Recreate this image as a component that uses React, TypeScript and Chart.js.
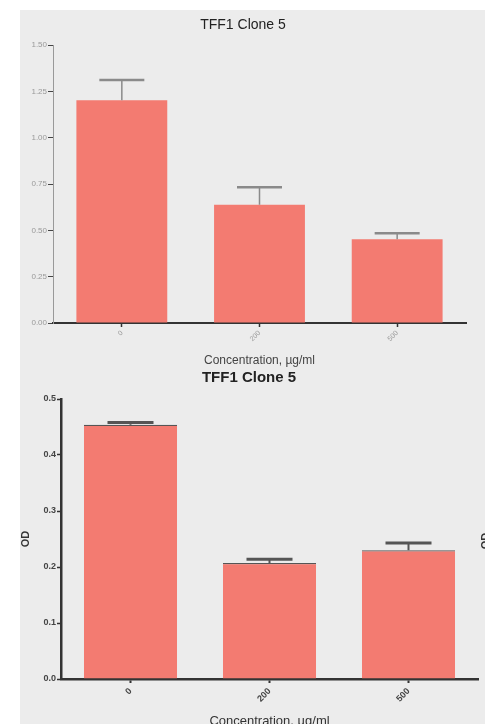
import React, { useEffect, useRef } from "react";
import { Chart, registerables } from "chart.js";

Chart.register(...registerables);

const FONT = "'Liberation Sans', Arial, Helvetica, sans-serif";

const categories = ["0", "200", "500"];
const chartTitle = "TFF1 Clone 5";
const xAxisTitle = "Concentration, µg/ml";
const yAxisTitle = "OD";

const topValues = [1.202, 0.638, 0.452];
const topErrors = [0.109, 0.094, 0.032];
const topYTicks = [0, 0.25, 0.5, 0.75, 1.0, 1.25, 1.5];

const bottomValues = [0.454, 0.207, 0.23];
const bottomErrors = [0.004, 0.007, 0.013];
const bottomYTicks = [0, 0.1, 0.2, 0.3, 0.4, 0.5];

const BAR_COLOR = "#f37b71";
const BG = "#ececec";

const errorBarPlugin = {
  id: "errorBars",
  afterDatasetsDraw(chart: any) {
    const opts = chart.options.plugins.errorBars;
    if (!opts) return;
    const { ctx } = chart;
    const meta = chart.getDatasetMeta(0);
    const ys = chart.scales.y;
    const data = chart.data.datasets[0].data as number[];
    ctx.save();
    ctx.strokeStyle = opts.color;
    meta.data.forEach((bar: any, i: number) => {
      const v = data[i];
      const yTop = ys.getPixelForValue(v + opts.errors[i]);
      const x = bar.x;
      ctx.lineWidth = opts.lineWidth;
      ctx.beginPath();
      ctx.moveTo(x, bar.y);
      ctx.lineTo(x, yTop);
      ctx.stroke();
      ctx.lineWidth = opts.capLineWidth;
      ctx.beginPath();
      ctx.moveTo(x - opts.capWidth / 2, yTop);
      ctx.lineTo(x + opts.capWidth / 2, yTop);
      ctx.stroke();
    });
    ctx.restore();
  },
};

function TopChart() {
  const ref = useRef<HTMLCanvasElement | null>(null);
  useEffect(() => {
    if (!ref.current) return;
    const chart = new Chart(ref.current, {
      type: "bar",
      data: {
        labels: categories,
        datasets: [
          {
            data: topValues,
            backgroundColor: BAR_COLOR,
            borderWidth: 0,
            barPercentage: 0.66,
            categoryPercentage: 1,
          },
        ],
      },
      options: {
        animation: false,
        responsive: false,
        devicePixelRatio: 1,
        layout: { padding: { left: 0, right: 7, top: 0, bottom: 0 } },
        plugins: {
          legend: { display: false },
          tooltip: { enabled: false },
          title: {
            display: true,
            text: chartTitle,
            color: "#222",
            font: { family: FONT, size: 14, weight: "normal", lineHeight: 1.2 },
            padding: { top: 6.6, bottom: 11.6 },
          },
          errorBars: {
            errors: topErrors,
            color: "#8a8a8a",
            lineWidth: 1.5,
            capLineWidth: 2.5,
            capWidth: 45,
          },
        } as any,
        scales: {
          x: {
            grid: {
              display: true,
              offset: false,
              drawOnChartArea: false,
              drawTicks: true,
              tickLength: 4,
              color: "#333",
              tickWidth: 1.5,
            },
            border: { display: true, color: "#333", width: 2 },
            ticks: {
              color: "#999",
              font: { family: FONT, size: 7 },
              minRotation: 45,
              maxRotation: 45,
              padding: 2,
            },
            title: {
              display: true,
              text: xAxisTitle,
              color: "#444",
              font: { family: FONT, size: 12, lineHeight: 1.2 },
              padding: { top: 0, bottom: 4 },
            },
            afterFit: (s: any) => {
              s.height = 49;
            },
          },
          y: {
            min: 0,
            max: 1.5,
            afterBuildTicks: (s: any) => {
              s.ticks = topYTicks.map((v) => ({ value: v }));
            },
            grid: {
              drawOnChartArea: false,
              drawTicks: true,
              tickLength: 5,
              color: "#444",
            },
            border: { display: true, color: "#999", width: 1 },
            ticks: {
              color: "#999",
              font: { family: FONT, size: 8 },
              padding: 1,
              callback: (v: any) => Number(v).toFixed(2),
            },
            afterFit: (s: any) => {
              s.width = 33;
            },
          },
        },
      } as any,
      plugins: [errorBarPlugin],
    });
    return () => chart.destroy();
  }, []);
  return (
    <canvas
      ref={ref}
      width={453}
      height={362}
      style={{ position: "absolute", left: 20, top: 10, width: 453, height: 362 }}
    />
  );
}

function BottomChart() {
  const ref = useRef<HTMLCanvasElement | null>(null);
  useEffect(() => {
    if (!ref.current) return;
    const chart = new Chart(ref.current, {
      type: "bar",
      data: {
        labels: categories,
        datasets: [
          {
            data: bottomValues,
            backgroundColor: BAR_COLOR,
            borderColor: "#555",
            borderWidth: { top: 1.2, left: 0, right: 0, bottom: 0 },
            borderSkipped: "start",
            barPercentage: 0.67,
            categoryPercentage: 1,
          },
        ],
      },
      options: {
        animation: false,
        responsive: false,
        devicePixelRatio: 1,
        layout: { padding: { left: 0, right: 7, top: 0, bottom: 0 } },
        plugins: {
          legend: { display: false },
          tooltip: { enabled: false },
          title: {
            display: true,
            text: chartTitle,
            color: "#222",
            font: { family: FONT, size: 15, weight: "bold", lineHeight: 1.2 },
            padding: { top: 9, bottom: 12 },
          },
          errorBars: {
            errors: bottomErrors,
            color: "#555",
            lineWidth: 2,
            capLineWidth: 3,
            capWidth: 46,
          },
        } as any,
        scales: {
          x: {
            grid: {
              display: true,
              offset: false,
              drawOnChartArea: false,
              drawTicks: true,
              tickLength: 4,
              color: "#333",
              tickWidth: 2,
            },
            border: { display: true, color: "#333", width: 2.5 },
            ticks: {
              color: "#444",
              font: { family: FONT, size: 9, weight: "bold" },
              minRotation: 45,
              maxRotation: 45,
              padding: 3,
            },
            title: {
              display: true,
              text: xAxisTitle,
              color: "#333",
              font: { family: FONT, size: 13, lineHeight: 1.2 },
              padding: { top: 0, bottom: 11 },
            },
            afterFit: (s: any) => {
              s.height = 61;
            },
          },
          y: {
            min: 0,
            max: 0.5,
            afterBuildTicks: (s: any) => {
              s.ticks = bottomYTicks.map((v) => ({ value: v }));
            },
            grid: {
              drawOnChartArea: false,
              drawTicks: true,
              tickLength: 4,
              color: "#333",
              tickWidth: 1.5,
            },
            border: { display: true, color: "#333", width: 2.5 },
            ticks: {
              color: "#444",
              font: { family: FONT, size: 9, weight: "bold" },
              padding: 1,
              callback: (v: any) => Number(v).toFixed(1),
            },
            title: {
              display: true,
              text: yAxisTitle,
              color: "#333",
              font: { family: FONT, size: 11, weight: "bold", lineHeight: 1 },
              padding: { top: 0, bottom: 0 },
            },
            afterFit: (s: any) => {
              s.width = 41;
            },
          },
        },
      } as any,
      plugins: [errorBarPlugin],
    });
    return () => chart.destroy();
  }, []);
  return (
    <canvas
      ref={ref}
      width={465}
      height={380}
      style={{ position: "absolute", left: 20, top: 360, width: 465, height: 380 }}
    />
  );
}

export default function App() {
  return (
    <div
      style={{
        position: "absolute",
        left: 0,
        top: 0,
        width: 485,
        height: 724,
        overflow: "hidden",
        background: "#fff",
      }}
    >
      <div
        style={{
          position: "absolute",
          left: 20,
          top: 10,
          width: 465,
          height: 714,
          background: BG,
        }}
      />
      <TopChart />
      <BottomChart />
      <div
        style={{
          position: "absolute",
          left: 475,
          top: 535,
          width: 20,
          height: 12,
          transform: "rotate(-90deg)",
          fontFamily: FONT,
          fontWeight: "bold",
          fontSize: 11,
          lineHeight: "12px",
          color: "#333",
          textAlign: "center",
        }}
      >
        {yAxisTitle}
      </div>
    </div>
  );
}
